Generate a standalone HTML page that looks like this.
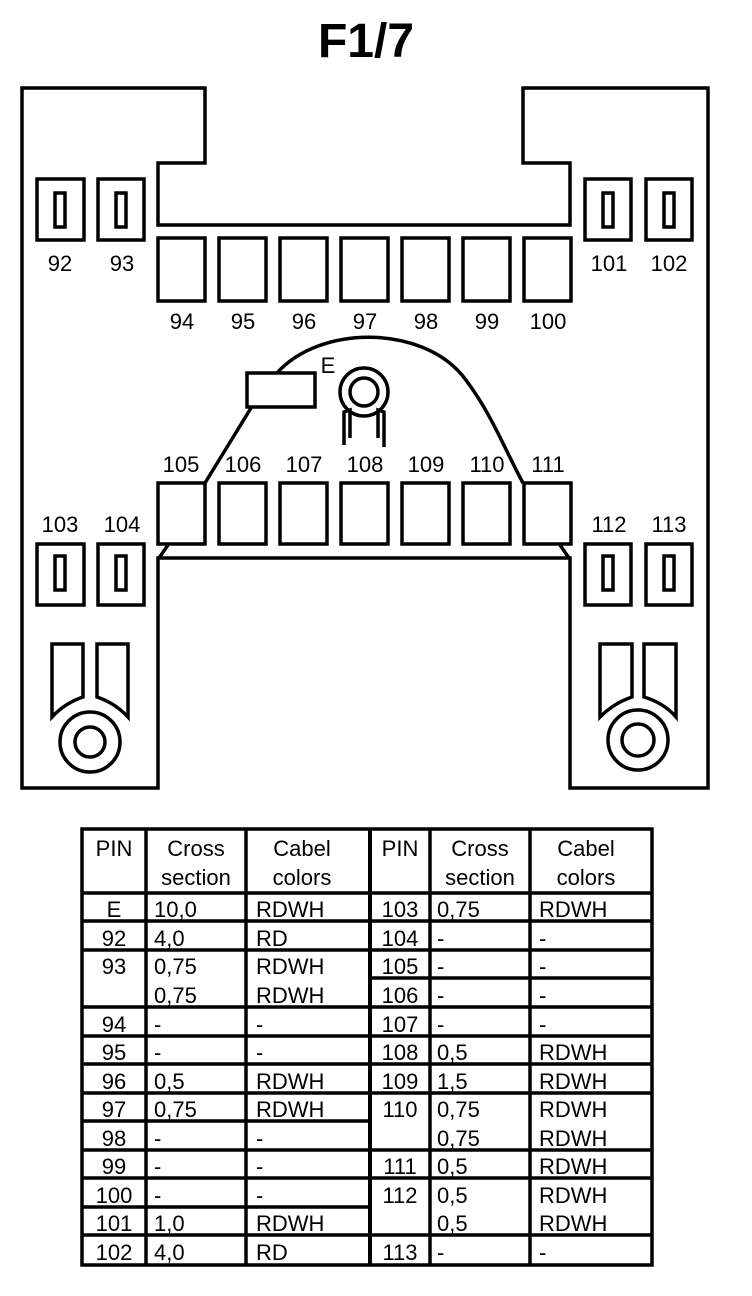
<!DOCTYPE html>
<html><head><meta charset="utf-8"><style>
html,body{margin:0;padding:0;background:#fff;}
svg{display:block;}
text{font-family:"Liberation Sans",Arial,sans-serif;fill:#000;}
</style></head><body>
<svg width="752" height="1296" viewBox="0 0 752 1296" xmlns="http://www.w3.org/2000/svg">
<text x="366" y="57" font-size="48" font-weight="bold" text-anchor="middle">F1/7</text>
<g fill="none" stroke="#000" stroke-width="3.5">
<path d="M22,88 L205,88 L205,163 L158,163 L158,225 L570,225 L570,163 L523,163 L523,88 L708,88 L708,788 L570,788 L570,558 L158,558 L158,788 L22,788 Z"/>
<rect x="37" y="179" width="47" height="61"/><rect x="55" y="193" width="10" height="34"/>
<rect x="98" y="179" width="46" height="61"/><rect x="116" y="193" width="10" height="34"/>
<rect x="585" y="179" width="46" height="61"/><rect x="603" y="193" width="10" height="34"/>
<rect x="646" y="179" width="46" height="61"/><rect x="664" y="193" width="10" height="34"/>
<rect x="37" y="544" width="47" height="61"/><rect x="55" y="556" width="10" height="34"/>
<rect x="98" y="544" width="46" height="61"/><rect x="116" y="556" width="10" height="34"/>
<rect x="585" y="544" width="46" height="61"/><rect x="603" y="556" width="10" height="34"/>
<rect x="646" y="544" width="46" height="61"/><rect x="664" y="556" width="10" height="34"/>
<rect x="158" y="238" width="47" height="63"/><rect x="219" y="238" width="47" height="63"/>
<rect x="280" y="238" width="47" height="63"/><rect x="341" y="238" width="47" height="63"/>
<rect x="402" y="238" width="47" height="63"/><rect x="463" y="238" width="47" height="63"/>
<rect x="524" y="238" width="47" height="63"/>
<rect x="158" y="483" width="47" height="61"/><rect x="219" y="483" width="47" height="61"/>
<rect x="280" y="483" width="47" height="61"/><rect x="341" y="483" width="47" height="61"/>
<rect x="402" y="483" width="47" height="61"/><rect x="463" y="483" width="47" height="61"/>
<rect x="524" y="483" width="47" height="61"/>
<line x1="168" y1="545" x2="159" y2="558"/><line x1="560" y1="545" x2="569" y2="558"/>
<rect x="247" y="373" width="68" height="34"/>
<line x1="251" y1="408" x2="205" y2="483"/>
<path d="M277,373 C320,325 420,325 462,375 C490,410 505,450 523,483"/>
<circle cx="364" cy="392" r="24"/><circle cx="364" cy="392" r="14"/>
<path d="M344,445 L344,412 L350,410 L350,438"/>
<path d="M384,447 L384,412 L378,410 L378,438"/>
<path d="M52,644 L83,644 L83,697 Q65,703 52,717 Z"/>
<path d="M97,644 L128,644 L128,717 Q115,703 97,697 Z"/>
<circle cx="90" cy="742" r="30"/><circle cx="90" cy="742" r="15"/>
<path d="M600,644 L632,644 L632,697 Q614,703 600,717 Z"/>
<path d="M644,644 L676,644 L676,717 Q664,703 644,697 Z"/>
<circle cx="638" cy="740" r="30"/><circle cx="638" cy="740" r="16"/>
</g>
<g font-size="22" text-anchor="middle">
<text x="60" y="271">92</text><text x="122" y="271">93</text>
<text x="609" y="271">101</text><text x="669" y="271">102</text>
<text x="182" y="329">94</text><text x="243" y="329">95</text><text x="304" y="329">96</text>
<text x="365" y="329">97</text><text x="426" y="329">98</text><text x="487" y="329">99</text><text x="548" y="329">100</text>
<text x="181" y="472">105</text><text x="243" y="472">106</text><text x="304" y="472">107</text>
<text x="365" y="472">108</text><text x="426" y="472">109</text><text x="487" y="472">110</text><text x="548" y="472">111</text>
<text x="60" y="532">103</text><text x="122" y="532">104</text>
<text x="609" y="532">112</text><text x="669" y="532">113</text>
<text x="328" y="373">E</text>
</g>
<g stroke="#000" stroke-width="3.5" fill="none">
<rect x="82" y="829" width="570" height="436"/>
<line x1="146" y1="829" x2="146" y2="1265"/><line x1="246" y1="829" x2="246" y2="1265"/>
<line x1="370" y1="829" x2="370" y2="1265" stroke-width="4"/>
<line x1="430" y1="829" x2="430" y2="1265"/><line x1="530" y1="829" x2="530" y2="1265"/>
<line x1="82" y1="893" x2="652" y2="893"/>
<line x1="82" y1="921" x2="370" y2="921"/><line x1="82" y1="950" x2="370" y2="950"/>
<line x1="82" y1="1007" x2="370" y2="1007"/><line x1="82" y1="1036" x2="370" y2="1036"/>
<line x1="82" y1="1064" x2="370" y2="1064"/><line x1="82" y1="1093" x2="370" y2="1093"/>
<line x1="82" y1="1121" x2="370" y2="1121"/><line x1="82" y1="1150" x2="370" y2="1150"/>
<line x1="82" y1="1178" x2="370" y2="1178"/><line x1="82" y1="1207" x2="370" y2="1207"/>
<line x1="82" y1="1235" x2="370" y2="1235"/>
<line x1="370" y1="921" x2="652" y2="921"/><line x1="370" y1="950" x2="652" y2="950"/>
<line x1="370" y1="978" x2="652" y2="978"/><line x1="370" y1="1007" x2="652" y2="1007"/>
<line x1="370" y1="1036" x2="652" y2="1036"/><line x1="370" y1="1064" x2="652" y2="1064"/>
<line x1="370" y1="1093" x2="652" y2="1093"/><line x1="370" y1="1150" x2="652" y2="1150"/>
<line x1="370" y1="1178" x2="652" y2="1178"/><line x1="370" y1="1235" x2="652" y2="1235"/>
</g>
<g font-size="22" text-anchor="middle">
<text x="114" y="856">PIN</text><text x="196" y="856">Cross</text><text x="196" y="885">section</text>
<text x="302" y="856">Cabel</text><text x="302" y="885">colors</text>
<text x="400" y="856">PIN</text><text x="480" y="856">Cross</text><text x="480" y="885">section</text>
<text x="586" y="856">Cabel</text><text x="586" y="885">colors</text>
<text x="114" y="917">E</text><text x="114" y="946">92</text><text x="114" y="974">93</text>
<text x="114" y="1032">94</text><text x="114" y="1060">95</text><text x="114" y="1089">96</text>
<text x="114" y="1117">97</text><text x="114" y="1146">98</text><text x="114" y="1174">99</text>
<text x="114" y="1203">100</text><text x="114" y="1231">101</text><text x="114" y="1260">102</text>
<text x="400" y="917">103</text><text x="400" y="946">104</text><text x="400" y="974">105</text>
<text x="400" y="1003">106</text><text x="400" y="1032">107</text><text x="400" y="1060">108</text>
<text x="400" y="1089">109</text><text x="400" y="1117">110</text><text x="400" y="1174">111</text>
<text x="400" y="1203">112</text><text x="400" y="1260">113</text>
</g>
<g font-size="22">
<text x="154" y="917">10,0</text><text x="256" y="917">RDWH</text>
<text x="154" y="946">4,0</text><text x="256" y="946">RD</text>
<text x="154" y="974">0,75</text><text x="256" y="974">RDWH</text>
<text x="154" y="1003">0,75</text><text x="256" y="1003">RDWH</text>
<text x="154" y="1032">-</text><text x="256" y="1032">-</text>
<text x="154" y="1060">-</text><text x="256" y="1060">-</text>
<text x="154" y="1089">0,5</text><text x="256" y="1089">RDWH</text>
<text x="154" y="1117">0,75</text><text x="256" y="1117">RDWH</text>
<text x="154" y="1146">-</text><text x="256" y="1146">-</text>
<text x="154" y="1174">-</text><text x="256" y="1174">-</text>
<text x="154" y="1203">-</text><text x="256" y="1203">-</text>
<text x="154" y="1231">1,0</text><text x="256" y="1231">RDWH</text>
<text x="154" y="1260">4,0</text><text x="256" y="1260">RD</text>
<text x="437" y="917">0,75</text><text x="539" y="917">RDWH</text>
<text x="437" y="946">-</text><text x="539" y="946">-</text>
<text x="437" y="974">-</text><text x="539" y="974">-</text>
<text x="437" y="1003">-</text><text x="539" y="1003">-</text>
<text x="437" y="1032">-</text><text x="539" y="1032">-</text>
<text x="437" y="1060">0,5</text><text x="539" y="1060">RDWH</text>
<text x="437" y="1089">1,5</text><text x="539" y="1089">RDWH</text>
<text x="437" y="1117">0,75</text><text x="539" y="1117">RDWH</text>
<text x="437" y="1146">0,75</text><text x="539" y="1146">RDWH</text>
<text x="437" y="1174">0,5</text><text x="539" y="1174">RDWH</text>
<text x="437" y="1203">0,5</text><text x="539" y="1203">RDWH</text>
<text x="437" y="1231">0,5</text><text x="539" y="1231">RDWH</text>
<text x="437" y="1260">-</text><text x="539" y="1260">-</text>
</g>
</svg>
</body></html>
